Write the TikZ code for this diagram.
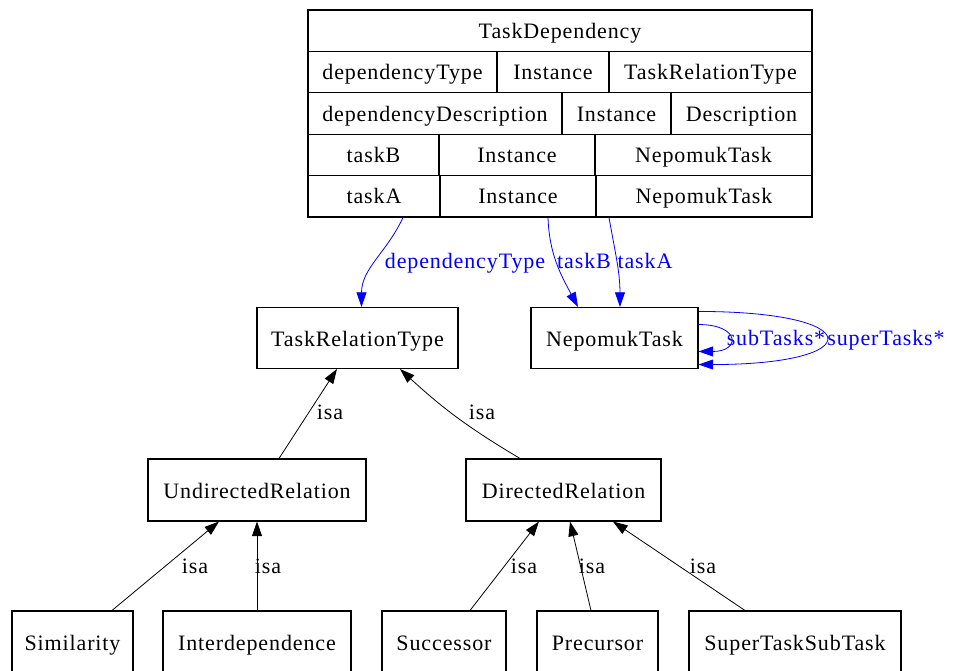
\documentclass[tikz,border=0pt]{standalone}
\usepackage{fontspec}
\setmainfont{Liberation Serif}[LetterSpace=4]
\usepackage{tikz}
\usetikzlibrary{positioning, arrows.meta}

\begin{document}
\begin{tikzpicture}[
    x=0.75pt, y=-0.75pt,
    font=\fontsize{16.5}{19}\selectfont,
    box/.style={rectangle, draw, line width=0.8pt, minimum height=45.75pt, inner sep=0pt, text height=13.5pt, text depth=0.5pt},
    cell/.style={rectangle, draw, line width=0.8pt, minimum height=31.05pt, inner sep=0pt, text height=12pt, text depth=0.6pt},
    isaarrow/.style={-{Triangle[length=11pt, width=7.5pt]}, line width=0.6pt},
    proparrow/.style={-{Triangle[length=11pt, width=7.5pt]}, line width=0.6pt, blue},
    lbl/.style={inner sep=0pt, text height=11.5pt, text depth=3.5pt},
    proplbl/.style={inner sep=0pt, text=blue, text height=11.5pt, text depth=3.5pt}
]
\useasboundingbox (0,0) rectangle (962,670);

% Record: TaskDependency
\node[cell, minimum width=378pt] (head) at (560,30.7) {TaskDependency};
\node[cell, minimum width=141.75pt] (t1) at (402.5,72.1) {dependencyType};
\node[cell, minimum width=84pt] (t2) at (553,72.1) {Instance};
\node[cell, minimum width=152.25pt] (t3) at (710.5,72.1) {TaskRelationType};
\node[cell, minimum width=190.5pt] (d1) at (435,113.5) {dependencyDescription};
\node[cell, minimum width=81.75pt] (d2) at (616.5,113.5) {Instance};
\node[cell, minimum width=105.75pt] (d3) at (741.5,113.5) {Description};
\node[cell, minimum width=98.25pt] (b1) at (373.5,154.9) {taskB};
\node[cell, minimum width=117pt] (b2) at (517,154.9) {Instance};
\node[cell, minimum width=162.75pt] (b3) at (703.5,154.9) {NepomukTask};
\node[cell, minimum width=99pt] (a1) at (374,196.3) {taskA};
\node[cell, minimum width=117pt] (a2) at (518,196.3) {Instance};
\node[cell, minimum width=162pt] (a3) at (704,196.3) {NepomukTask};

% Classes
\node[box, minimum width=150.75pt] (trt) at (357.5,338) {TaskRelationType};
\node[box, minimum width=125.25pt] (nt) at (614.5,338) {NepomukTask};
\node[box, minimum width=163.5pt, minimum height=46.5pt] (ur) at (257,490) {UndirectedRelation};
\node[box, minimum width=146.25pt, minimum height=46.5pt] (dr) at (563.5,490) {DirectedRelation};
\node[box, minimum width=90.75pt] (sim) at (72.5,641.5) {Similarity};
\node[box, minimum width=141pt] (inter) at (257,641.5) {Interdependence};
\node[box, minimum width=93pt] (succ) at (444,641.5) {Successor};
\node[box, minimum width=90.75pt] (prec) at (597.5,641.5) {Precursor};
\node[box, minimum width=159pt] (stst) at (795,641.5) {SuperTaskSubTask};

% Properties
\draw[proparrow] ([xshift=21.75pt]a1.south) to[out=-115, in=90] ([xshift=3pt]trt.north);
\draw[proparrow] ([xshift=22.5pt]a2.south) to[out=-88, in=118] ([xshift=-27.4pt]nt.north);
\draw[proparrow] ([xshift=-71.25pt]a3.south) to[out=-80, in=90] ([xshift=4.1pt]nt.north);
\draw[proparrow] ([yshift=10.1pt]nt.east) .. controls +(42,0) and +(42,0) .. ([yshift=-10.1pt]nt.east);
\draw[proparrow] ([yshift=19.9pt]nt.east) .. controls +(170,0) and +(170,0) .. ([yshift=-19.9pt]nt.east);
\node[proplbl] (ldep) at (465,263) {dependencyType};
\node[proplbl] (ltb) at (584,263) {taskB};
\node[proplbl] (lta) at (645,263) {taskA};
\node[proplbl] (lsub) at (776,340) {subTasks*};
\node[proplbl] (lsup) at (886,340) {superTasks*};

% isa
\draw[isaarrow] ([xshift=16.5pt]ur.north) -- ([xshift=-15.4pt]trt.south);
\draw[isaarrow] ([xshift=-32.6pt]dr.north) to[bend left=6] ([xshift=31.9pt]trt.south);
\draw[isaarrow] ([xshift=29.6pt]sim.north) -- ([xshift=-28.5pt]ur.south);
\draw[isaarrow] (inter.north) -- (ur.south);
\draw[isaarrow] ([xshift=19.5pt]succ.north) -- ([xshift=-18.4pt]dr.south);
\draw[isaarrow] ([xshift=-4.9pt]prec.north) -- ([xshift=4.9pt]dr.south);
\draw[isaarrow] ([xshift=-37.5pt]stst.north) -- ([xshift=37.1pt]dr.south);
\node[lbl] (i1) at (330,414) {isa};
\node[lbl] (i2) at (482,414) {isa};
\node[lbl] (i3) at (195,568) {isa};
\node[lbl] (i4) at (268,568) {isa};
\node[lbl] (i5) at (524,568) {isa};
\node[lbl] (i6) at (592,568) {isa};
\node[lbl] (i7) at (703,568) {isa};

\end{tikzpicture}
\end{document}
